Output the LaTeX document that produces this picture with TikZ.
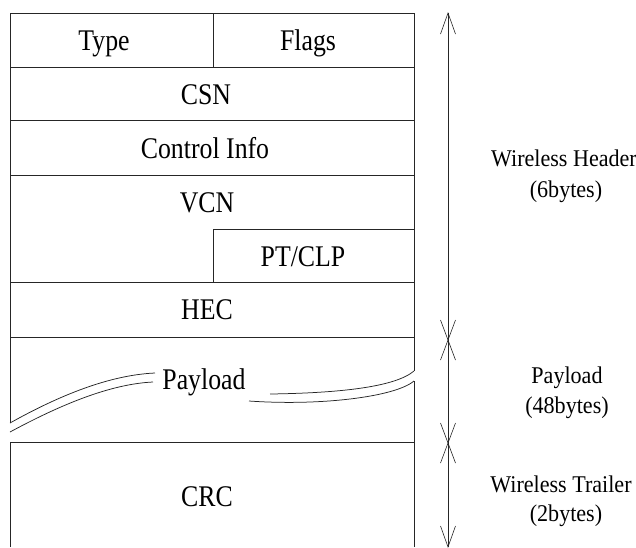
\documentclass[tikz,border=0pt]{standalone}
\usepackage{graphicx}
\usepackage{fontspec}
\setmainfont{Liberation Serif}

% condensed lettering used in the cells and in the side labels
\newcommand{\celltext}[1]{\scalebox{0.86}[1]{#1}}
\newcommand{\sidetext}[1]{\scalebox{0.92}[1]{#1}}

\begin{document}
\begin{tikzpicture}[x=1pt, y=-1pt,
  frame/.style={line width=0.75pt, draw=black!85},
  field/.style={font=\fontsize{30}{32}\selectfont, inner sep=0pt, anchor=base},
  sidelabel/.style={font=\fontsize{24}{26}\selectfont, inner sep=0pt, anchor=base},
  shaft/.style={line width=0.6pt, draw=black!85}]
\useasboundingbox (0,0) rectangle (636,547);

% ---- header rows ----
\draw[frame] (10,423) -- (10,13) -- (414,13) -- (414,371);
\draw[frame] (213,13) -- (213,67);
\draw[frame] (10,67) -- (414,67);
\draw[frame] (10,120) -- (414,120);
\draw[frame] (10,175) -- (414,175);
\draw[frame] (213,282) -- (213,229) -- (414,229);
\draw[frame] (10,282) -- (414,282);
\draw[frame] (10,337) -- (414,337);

% ---- payload break ----
\draw[frame] (10,423) .. controls (60,395) and (110,375) .. (155,373);
\draw[frame] (10,432) .. controls (60,405) and (110,384) .. (153,382);
\draw[frame] (270,394) .. controls (340,393) and (395,387) .. (414,371);
\draw[frame] (249,401) .. controls (320,406) and (395,397) .. (414,381);

% ---- trailer ----
\draw[frame] (10,547) -- (10,442) -- (414,442);
\draw[frame] (414,381) -- (414,547);

% ---- field names ----
\node[field] (type)  at (104,50)  {\celltext{Type}};
\node[field] (flags) at (308,50)  {\celltext{Flags}};
\node[field] (csn)   at (206,104) {\celltext{CSN}};
\node[field] (ctrl)  at (205,158) {\celltext{Control Info}};
\node[field] (vcn)   at (207,212) {\celltext{VCN}};
\node[field] (ptclp) at (303,266) {\celltext{PT/CLP}};
\node[field] (hec)   at (207,319) {\celltext{HEC}};
\node[field] (pay)   at (204,389) {\celltext{Payload}};
\node[field] (crc)   at (207,506) {\celltext{CRC}};

% ---- extent markers: one shaft, open heads at each boundary ----
\coordinate (m0) at (448,13);
\coordinate (m1) at (448,340);
\coordinate (m2) at (448,443);
\coordinate (m3) at (448,547);
\draw[shaft] (m0) -- (m3);
\draw[shaft] (m0) ++(-7.5,21) -- (m0) -- ++(7.5,21);
\draw[shaft] (m1) ++(-7.5,-20) -- (m1) -- ++(7.5,20);
\draw[shaft] (m1) ++(7.5,-20) -- (m1) -- ++(-7.5,20);
\draw[shaft] (m2) ++(-7.5,-20) -- (m2) -- ++(7.5,20);
\draw[shaft] (m2) ++(7.5,-20) -- (m2) -- ++(-7.5,20);
\draw[shaft] (m3) ++(-7.5,-21) -- (m3) -- ++(7.5,-21);

% ---- section labels ----
\node[sidelabel] (hd1) at (564,166) {\sidetext{Wireless Header}};
\node[sidelabel] (hd2) at (566,197) {\sidetext{(6bytes)}};
\node[sidelabel] (pl1) at (567,383) {\sidetext{Payload}};
\node[sidelabel] (pl2) at (567,413) {\sidetext{(48bytes)}};
\node[sidelabel] (tr1) at (561,492) {\sidetext{Wireless Trailer}};
\node[sidelabel] (tr2) at (566,521) {\sidetext{(2bytes)}};
\end{tikzpicture}
\end{document}
